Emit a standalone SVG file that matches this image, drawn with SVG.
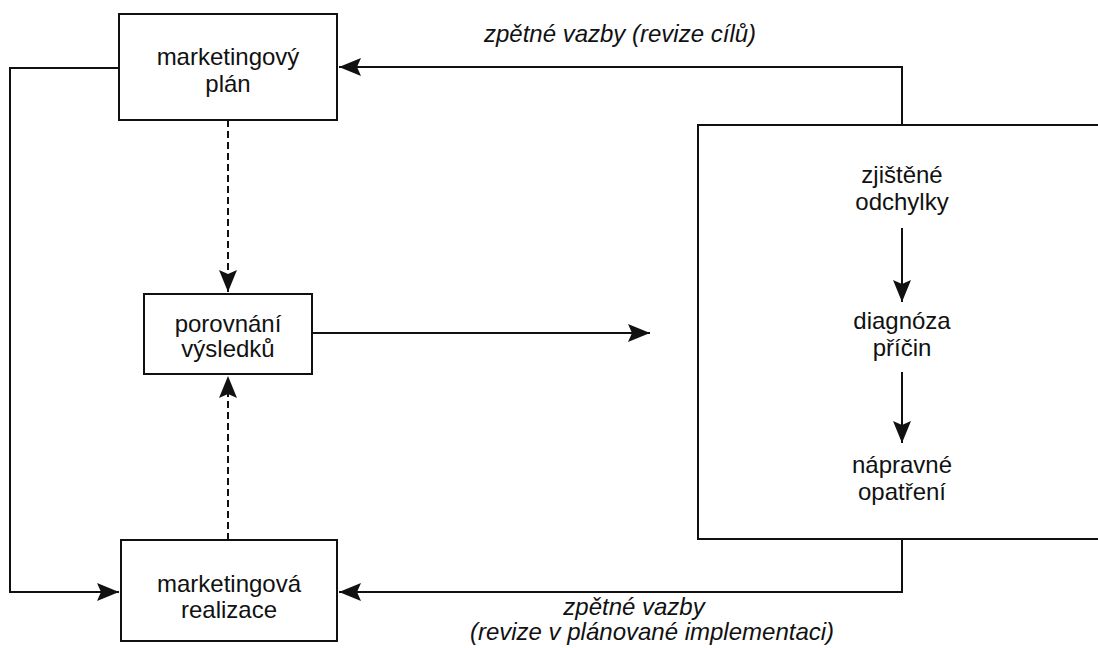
<svg xmlns="http://www.w3.org/2000/svg" width="1098" height="648" viewBox="0 0 1098 648">
  <style>
    .box { fill: #fff; stroke: #111; stroke-width: 2; }
    .lbl { font-family: "Liberation Sans", Arial, sans-serif; font-size: 24px; fill: #111; text-anchor: middle; }
    .it { font-style: italic; }
    .ln { fill: none; stroke: #111; stroke-width: 2; }
    .dash { stroke-dasharray: 7 4; }
  </style>
  <defs>
    <marker id="ah" markerUnits="userSpaceOnUse" viewBox="0 0 22 18" refX="22" refY="9" markerWidth="22" markerHeight="18" orient="auto">
      <path d="M0,0 L22,9 L0,18 L4,9 z" fill="#111"/>
    </marker>
  </defs>
  <rect width="1098" height="648" fill="#fff"/>

  <g id="plan">
    <rect class="box" x="119" y="14" width="218" height="106"/>
    <text class="lbl" x="228" y="65">marketingový</text>
    <text class="lbl" x="228" y="92">plán</text>
  </g>

  <g id="porovnani">
    <rect class="box" x="144" y="294" width="168" height="80"/>
    <text class="lbl" x="228" y="332">porovnání</text>
    <text class="lbl" x="228" y="357">výsledků</text>
  </g>

  <g id="realizace">
    <rect class="box" x="121" y="540" width="216" height="101"/>
    <text class="lbl" x="229" y="592">marketingová</text>
    <text class="lbl" x="229" y="618">realizace</text>
  </g>

  <g id="analyza">
    <rect class="box" x="698" y="125" width="420" height="414"/>
    <text class="lbl" x="902" y="183">zjištěné</text>
    <text class="lbl" x="902" y="210">odchylky</text>
    <text class="lbl" x="902" y="329">diagnóza</text>
    <text class="lbl" x="902" y="356">příčin</text>
    <text class="lbl" x="902" y="473">nápravné</text>
    <text class="lbl" x="902" y="500">opatření</text>
  </g>

  <g id="connectors">
    <path class="ln" d="M119,68 H10 V592 H119" marker-end="url(#ah)"/>
    <path class="ln" d="M902,125 V67 H339" marker-end="url(#ah)"/>
    <path class="ln" d="M902,539 V592 H339" marker-end="url(#ah)"/>
    <path class="ln dash" d="M228,120 V292" marker-end="url(#ah)"/>
    <path class="ln dash" d="M228,540 V376" marker-end="url(#ah)"/>
    <path class="ln" d="M312,333 H650" marker-end="url(#ah)"/>
    <path class="ln" d="M902,228 V302" marker-end="url(#ah)"/>
    <path class="ln" d="M902,372 V443" marker-end="url(#ah)"/>
    <text class="lbl it" x="620" y="42">zpětné vazby (revize cílů)</text>
    <text class="lbl it" x="634" y="615">zpětné vazby</text>
    <text class="lbl it" x="652" y="640">(revize v plánované implementaci)</text>
  </g>
</svg>
